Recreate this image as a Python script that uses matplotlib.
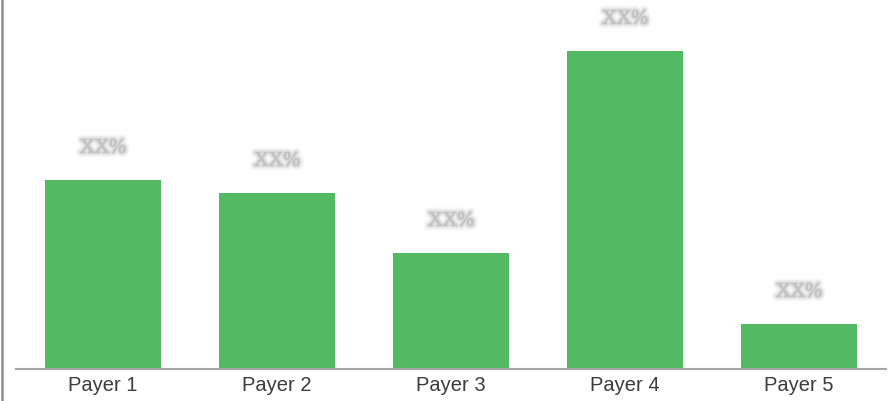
import matplotlib
matplotlib.use("Agg")
import matplotlib.pyplot as plt
import matplotlib.patheffects as pe
from matplotlib.lines import Line2D

categories = ["Payer 1", "Payer 2", "Payer 3", "Payer 4", "Payer 5"]
values = [189, 176, 116, 318, 45]
labels = ["XX%", "XX%", "XX%", "XX%", "XX%"]

W, H = 889, 401
fig = plt.figure(figsize=(W / 100, H / 100), dpi=100)
ax = fig.add_axes([16 / W, (H - 369) / H, 870 / W, 369 / H])

ax.bar(range(len(categories)), values, width=0.667, color="#53B963", zorder=2)
ax.set_xlim(-0.5, len(categories) - 0.5)
ax.set_ylim(0, 369)

blur = [pe.withStroke(linewidth=7, foreground="#f2f2f2", alpha=0.5),
        pe.withStroke(linewidth=4.5, foreground="#e4e4e4", alpha=0.6),
        pe.withStroke(linewidth=2.5, foreground="#d2d2d2", alpha=0.7)]
for i, (v, lab) in enumerate(zip(values, labels)):
    ax.annotate(lab, (i, v), xytext=(0, 32), textcoords="offset pixels",
                ha="center", va="center", fontsize=14.5, color="#c2c2c2",
                family="Liberation Serif", path_effects=blur + [pe.Normal()])

for s in ["top", "right", "left"]:
    ax.spines[s].set_visible(False)
ax.spines["bottom"].set_color("#a6a6a6")
ax.spines["bottom"].set_linewidth(1.5)
ax.set_yticks([])
ax.set_xticks(range(len(categories)))
ax.set_xticklabels(categories, fontsize=14.5, color="#3c3c3c", family="Liberation Sans")
ax.tick_params(axis="x", length=0, pad=5)

fig.add_artist(Line2D([1.5 / W, 1.5 / W], [0, 1], color="#8c8c8c", linewidth=1.8,
                      transform=fig.transFigure))

fig.savefig("out.png", dpi=100)
